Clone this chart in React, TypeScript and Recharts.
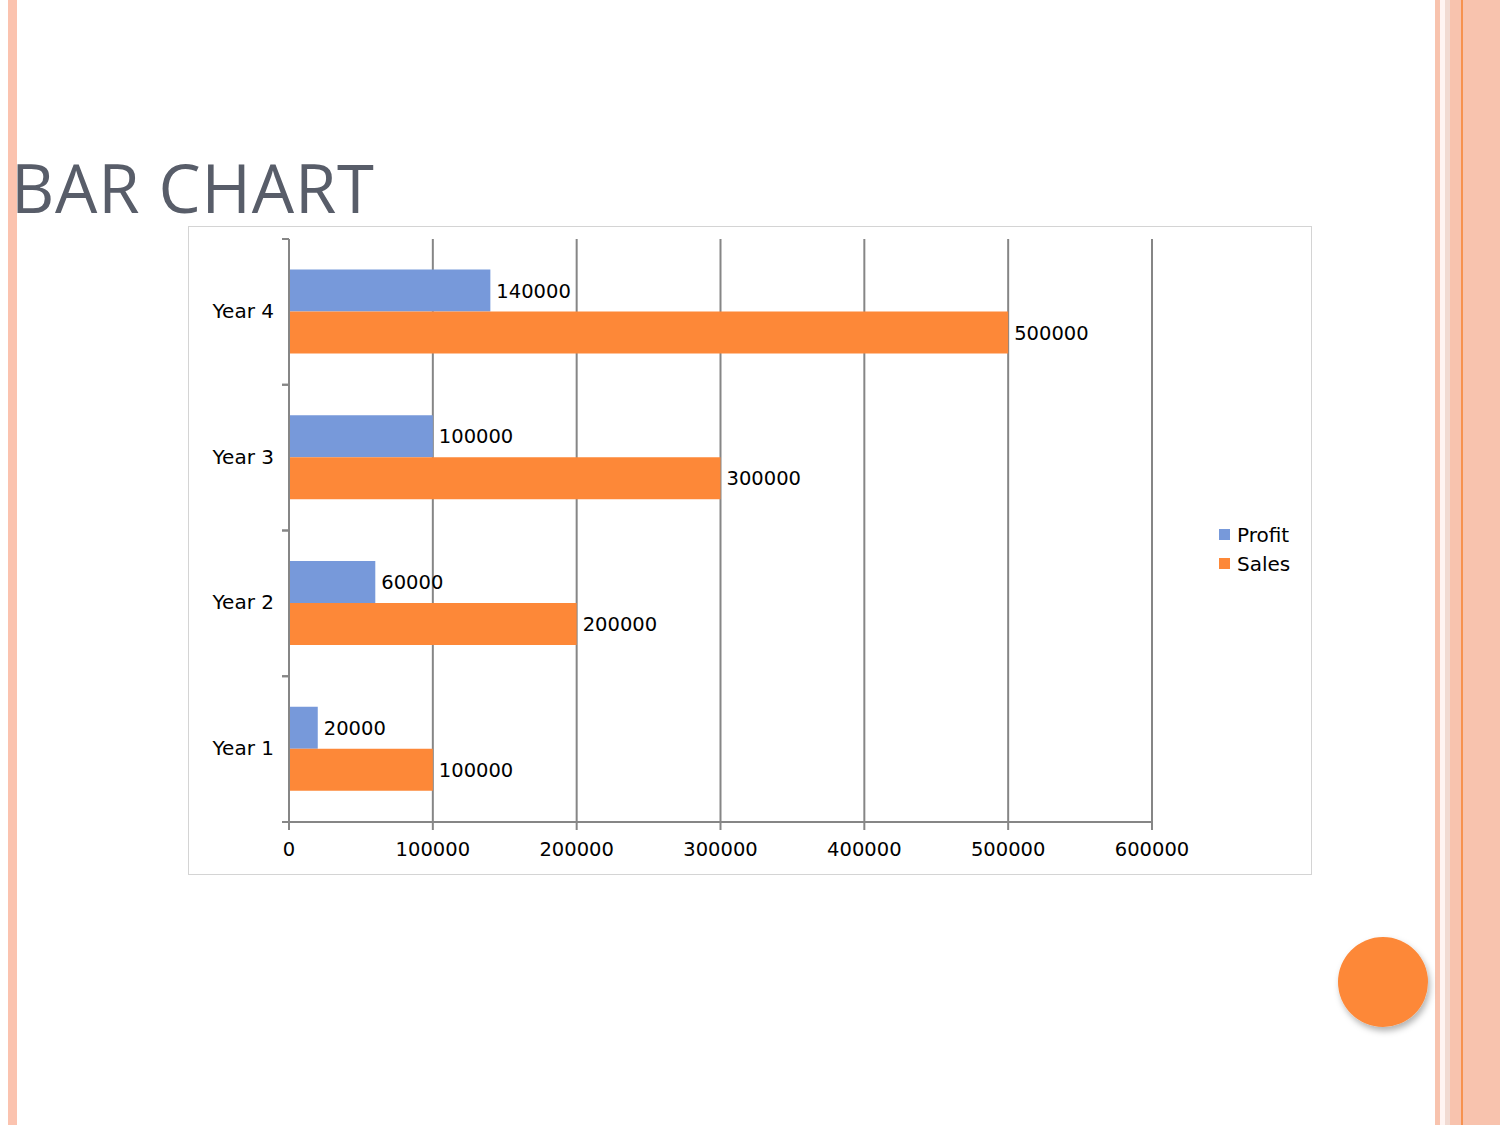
import React from 'react';
import { BarChart, Bar, XAxis, YAxis, CartesianGrid, LabelList } from 'recharts';

const categories = ['Year 1', 'Year 2', 'Year 3', 'Year 4'];
const profit = [20000, 60000, 100000, 140000];
const sales = [100000, 200000, 300000, 500000];
const xTicks = [0, 100000, 200000, 300000, 400000, 500000, 600000];

const series = [
  { key: 'Profit', color: '#7799DA' },
  { key: 'Sales', color: '#FD8838' },
];

const data = categories.map((name, i) => ({ name, Profit: profit[i], Sales: sales[i] }));

const font = 'DejaVu Sans, Verdana, sans-serif';
const fs = 19.5;
const gridGray = '#868686';

// category ticks: label in the middle of the band, tick marks on the band edges
function YTick(props: any) {
  const { x, y, payload } = props;
  const half = payload?.offset ?? 0;
  const ax = x + 15;
  return (
    <g>
      <line x1={ax - 7} x2={ax} y1={y - half} y2={y - half} stroke={gridGray} strokeWidth={2} />
      <line x1={ax - 7} x2={ax} y1={y + half} y2={y + half} stroke={gridGray} strokeWidth={2} />
      <text x={x} y={y - 1} dy="0.355em" textAnchor="end" fill="#000" fontSize={20} fontFamily={font}>
        {payload.value}
      </text>
    </g>
  );
}

export default function App() {
  return (
    <div style={{ position: 'absolute', left: 0, top: 0, width: 1500, height: 1125, background: '#fff', overflow: 'hidden' }}>
      <svg width={1500} height={1125} style={{ position: 'absolute', left: 0, top: 0 }}>
        <defs>
          <filter id="dot-shadow" x="-30%" y="-30%" width="160%" height="160%">
            <feDropShadow dx="2" dy="4" stdDeviation="3" floodColor="#000" floodOpacity="0.3" />
          </filter>
        </defs>
        {/* left stripe */}
        <rect x={8} y={0} width={9} height={1125} fill="#FBC3AF" />
        {/* right border stripes */}
        <rect x={1435} y={0} width={65} height={1125} fill="#F8C3AE" />
        <rect x={1440} y={0} width={5} height={1125} fill="#FFF4F2" />
        <rect x={1445} y={0} width={5} height={1125} fill="#F1DAD2" />
        <rect x={1461} y={0} width={2} height={1125} fill="#F7924F" />
        <text x={11} y={213} fontSize={67} letterSpacing={0.8} fontFamily="Open Sans, sans-serif" fill="#585D69">
          BAR CHART
        </text>
        <circle cx={1383} cy={982} r={45} fill="#FD8838" filter="url(#dot-shadow)" />
      </svg>

      <div
        style={{
          position: 'absolute',
          left: 188,
          top: 226,
          width: 1124,
          height: 649,
          border: '1px solid #d4d4d4',
          boxSizing: 'border-box',
          background: '#fff',
        }}
      >
        <BarChart
          width={1122}
          height={647}
          data={data}
          layout="vertical"
          margin={{ top: 12, right: 159, bottom: 0, left: 0 }}
          barCategoryGap="21%"
          barGap={0}
          style={{ fontFamily: font }}
        >
          <CartesianGrid horizontal={false} stroke={gridGray} strokeWidth={2} />
          <XAxis
            type="number"
            domain={[0, 600000]}
            ticks={xTicks}
            height={52}
            tickSize={8}
            tickMargin={12}
            axisLine={{ stroke: gridGray, strokeWidth: 2 }}
            tickLine={{ stroke: gridGray, strokeWidth: 2 }}
            tick={{ fill: '#000', fontSize: fs, fontFamily: font }}
          />
          <YAxis
            type="category"
            dataKey="name"
            reversed
            width={100}
            tickSize={7}
            tickMargin={8}
            axisLine={{ stroke: gridGray, strokeWidth: 2 }}
            tickLine={false}
            tick={<YTick />}
          />
          {series.map((s) => (
            <Bar key={s.key} dataKey={s.key} fill={s.color} isAnimationActive={false}>
              <LabelList dataKey={s.key} position="right" offset={6} fill="#000" fontSize={fs} fontFamily={font} />
            </Bar>
          ))}
        </BarChart>
      </div>

      <div style={{ position: 'absolute', left: 1219, top: 520, fontFamily: font, fontSize: 20, color: '#000' }}>
        {series.map((s) => (
          <div key={s.key} style={{ display: 'flex', alignItems: 'center', height: 29 }}>
            <span style={{ display: 'inline-block', width: 11, height: 11, background: s.color, marginRight: 7 }} />
            {s.key}
          </div>
        ))}
      </div>
    </div>
  );
}
